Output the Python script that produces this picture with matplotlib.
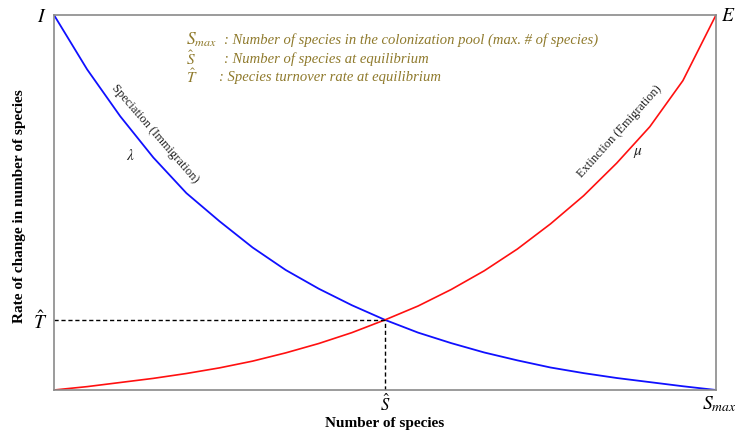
import matplotlib
matplotlib.use("Agg")
import matplotlib.pyplot as plt
import matplotlib.transforms as mtrans

plt.rcParams['font.family'] = ['Liberation Serif', 'DejaVu Serif']
plt.rcParams['mathtext.fontset'] = 'stix'

# Data (x = number of species in % of S_max, y = rate in % of max)
species = [0, 5, 10, 15, 20, 25, 30, 35, 40, 45, 50, 55, 60, 65, 70, 75, 80, 85, 90, 95, 100]
immigration = [100, 85.5, 73.0, 62.0, 52.5, 45.0, 38.0, 32.0, 27.0, 22.6, 18.7, 15.3, 12.5,
               10.0, 7.9, 6.0, 4.5, 3.2, 2.1, 1.0, 0]
extinction = [0, 0.9, 2.0, 3.1, 4.4, 5.9, 7.7, 9.9, 12.4, 15.3, 18.7, 22.4, 26.8, 31.8,
              37.6, 44.3, 51.8, 60.5, 70.2, 82.5, 100]
S_eq = 50.0
T_eq = 18.7
S_max = 100.0
rate_max = 100.0

xtick_labels = [r'$\hat{S}$', r'$S_{max}$']
ytick_labels = [r'$\hat{T}$', r'$I$']

legend_symbols = [r'$S_{max}$', r'$\hat{S}$', r'$\hat{T}$']
legend_sym_sizes = [12.5, 11, 11]
legend_texts = [': Number of species in the colonization pool (max. # of species)',
                ': Number of species at equilibrium',
                ': Species turnover rate at equilibrium']

W, H = 735, 434
fig = plt.figure(figsize=(W / 100, H / 100), dpi=100)
L, R, T, B = 54, 716, 15, 390
ax = fig.add_axes([L / W, 1 - B / H, (R - L) / W, (B - T) / H])
ax.set_xlim(0, S_max)
ax.set_ylim(0, rate_max)

ax.plot(species, immigration, color='#1010ff', lw=1.3, solid_capstyle='round')
ax.plot(species, extinction, color='#ff1010', lw=1.2, solid_capstyle='round')
ax.plot([0, S_eq], [T_eq, T_eq], color='black', lw=1.0, ls=(0, (3, 2)))
ax.plot([S_eq, S_eq], [0, T_eq], color='black', lw=1.0, ls=(0, (3, 2)))

for s in ax.spines.values():
    s.set_color('#8a8a8a')
    s.set_linewidth(1.2)

ax.set_xticks([S_eq, S_max])
ax.set_xticklabels(xtick_labels, fontsize=14)
ax.set_yticks([T_eq, rate_max])
ax.set_yticklabels(ytick_labels, fontsize=14)
ax.tick_params(axis='x', length=0, pad=3)
ax.tick_params(axis='y', length=0, pad=5)
lbls = ax.get_xticklabels()
lbls[0].set_fontsize(12)
lbls[1].set_horizontalalignment('left')
off = mtrans.ScaledTranslation(-14 / 100, 0, fig.dpi_scale_trans)
lbls[1].set_transform(lbls[1].get_transform() + off)

ax.text(1.018, 0.995, r'$E$', transform=ax.transAxes, fontsize=14,
        ha='center', va='center')

ax.set_xlabel('Number of species', fontsize=11, fontweight='bold', va='center')
ax.xaxis.set_label_coords(0.5, (B - 423) / (B - T))
ax.set_ylabel('Rate of change in number of species', fontsize=11,
              fontweight='bold', va='center')
ax.yaxis.set_label_coords((20 - L) / (R - L), 0.49)

def px(x, y):
    return x / W, 1 - y / H

gold = '#8f7a2c'
rows_y = [40, 59, 77]
text_x = [224, 224, 219]
for sym, ss, txt, yy, tx in zip(legend_symbols, legend_sym_sizes, legend_texts, rows_y, text_x):
    fig.text(*px(186, yy), sym, color=gold, fontsize=ss, ha='left', va='center')
    fig.text(*px(tx, yy), txt, color=gold, fontsize=10.5, style='italic',
             ha='left', va='center')

fig.text(*px(155, 134), 'Speciation (Immigration)', fontsize=9, color='#222222',
         rotation=-49, rotation_mode='anchor', ha='center', va='center')
fig.text(*px(130, 156), r'$\lambda$', fontsize=11, color='#222222',
         ha='center', va='center')
fig.text(*px(620, 132), 'Extinction (Emigration)', fontsize=9, color='#222222',
         rotation=48, rotation_mode='anchor', ha='center', va='center')
fig.text(*px(638, 153), r'$\mu$', fontsize=11, color='#222222',
         ha='center', va='center')

fig.savefig('out.png', dpi=100)
